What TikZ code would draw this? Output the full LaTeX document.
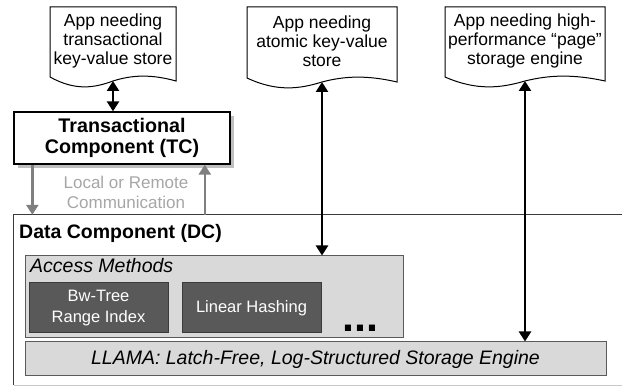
\documentclass[tikz,border=0pt]{standalone}
\usepackage{fontspec}
\setmainfont{Liberation Sans}
\usetikzlibrary{arrows.meta,shadows}
\definecolor{amfill}{HTML}{D9D9D9}
\definecolor{dkfill}{HTML}{595959}
\definecolor{dkline}{HTML}{3A3A3A}
\definecolor{midgray}{HTML}{7F7F7F}
\definecolor{txtgray}{HTML}{A6A6A6}
\definecolor{boxline}{HTML}{5A5A5A}
\definecolor{lightline}{HTML}{C8C8C8}
\newcommand\mydocshape[5]{%
  \draw[docline] (#2,#5) -- (#2,#4) -- (#3,#4) -- (#3,#5+4)
    .. controls ({#3-0.2*(#3-#2)},#5-3) and ({#2+0.65*(#3-#2)},#5-2) .. ({(#2+#3)/2},#5+4)
    .. controls ({#2+0.35*(#3-#2)},#5+11) and ({#2+0.2*(#3-#2)},#5+14) .. (#2,#5) -- cycle;
  \coordinate (#1) at ({(#2+#3)/2},#5+4);
}
\begin{document}
\begin{tikzpicture}[x=1pt,y=-1pt,
  docline/.style={draw=black,fill=white,line width=1pt},
  doctext/.style={align=center,inner sep=0pt,font=\fontsize{17.5}{19}\selectfont},
  blkarrow/.style={line width=2.8pt,{Triangle[length=10pt,width=12pt]}-{Triangle[length=10pt,width=12pt]}},
  gryarrow/.style={draw=midgray,line width=2.6pt,-{Triangle[length=10pt,width=12pt]}},
  tcbox/.style={draw=black,fill=white,line width=1.3pt,minimum width=216pt,minimum height=52pt,inner sep=0pt,align=center,font=\fontsize{19.7}{21.5}\selectfont\bfseries,drop shadow={shadow xshift=4pt,shadow yshift=-4pt,fill=black!25,opacity=1}},
  lightbox/.style={draw=boxline,fill=amfill,line width=1pt,inner sep=0pt},
  darkbox/.style={draw=dkline,fill=dkfill,line width=1pt,inner sep=0pt,minimum width=139pt,minimum height=50pt,align=center,text=white,font=\fontsize{16.5}{20.5}\selectfont},
  labeltext/.style={inner sep=0pt,anchor=base west}
]
\useasboundingbox (0,0) rectangle (622,387);

% application documents
\mydocshape{d1}{50}{176}{7}{77}
\mydocshape{d2}{247}{397}{7}{78}
\mydocshape{d3}{445}{605}{7}{77}
\node[doctext] (t1) at (113,41) {App needing\\transactional\\key-value store};
\node[doctext] (t2) at (322,41) {App needing\\atomic key-value\\store};
\node[doctext] (t3) at (525,41) {App needing high-\\performance “page”\\storage engine};

% transactional component
\node[tcbox] (tc) at (122,138) {Transactional\\Component (TC)};

% data component (runs past the right edge)
\node[minimum width=626pt,minimum height=170pt,inner sep=0pt] (dc) at (327,300) {};
\draw[draw=dkline,line width=1.1pt] (dc.north east) -- (dc.north west) -- (dc.south west);
\draw[draw=lightline,line width=1.1pt] (dc.south west) -- (dc.south east);
\node[labeltext,font=\fontsize{19.5}{22}\selectfont\bfseries] (dclabel) at (19,239) {Data Component (DC)};

% access methods
\node[lightbox,minimum width=378pt,minimum height=82pt] (am) at (214,297) {};
\node[labeltext,font=\fontsize{19.5}{22}\selectfont\itshape] (amlabel) at (30,273) {Access Methods};
\node[darkbox] (bw) at (98.5,308) {Bw-Tree\\Range Index};
\node[darkbox] (lh) at (251.5,308) {Linear Hashing};
\node[labeltext,font=\fontsize{43}{43}\selectfont\bfseries] (dots) at (342,332) {...};

% LLAMA
\node[lightbox,minimum width=581pt,minimum height=34pt,font=\fontsize{19.5}{22}\selectfont\itshape] (llama) at (315.5,359) {LLAMA: Latch-Free, Log-Structured Storage Engine};

% communication arrows
\draw[gryarrow] (tc.south west) ++(19,0) coordinate (g1) -- (g1 |- dc.north);
\draw[gryarrow] (dc.north west) ++(191,0) coordinate (g2) -- (g2 |- tc.south);
\node[align=center,inner sep=0pt,text=txtgray,font=\fontsize{17}{20}\selectfont] (comm) at (126,192) {Local or Remote\\Communication};

% app arrows
\draw[blkarrow] (d1) -- (d1 |- tc.north);
\draw[blkarrow] (d2) -- (d2 |- am.north);
\draw[blkarrow] (d3) -- (d3 |- llama.north);
\end{tikzpicture}
\end{document}
